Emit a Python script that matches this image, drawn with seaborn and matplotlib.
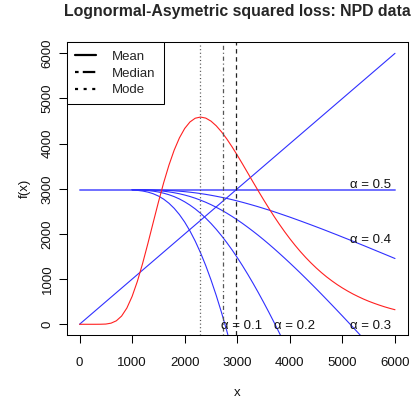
import matplotlib
matplotlib.use("Agg")
import matplotlib.pyplot as plt
from matplotlib.lines import Line2D
import pandas as pd
import seaborn as sns

# Lognormal density (scaled), sampled every 100
x_dens = list(range(0, 6001, 100))
dens = [0, 0, 0, 0, 1, 5, 25, 77, 182, 359,
        617, 951, 1348, 1789, 2249, 2704, 3134, 3522, 3856, 4128,
        4336, 4480, 4563, 4589, 4566, 4499, 4395, 4262, 4105, 3931,
        3744, 3549, 3350, 3150, 2953, 2759, 2571, 2389, 2216, 2051,
        1895, 1748, 1610, 1481, 1361, 1249, 1145, 1049, 961, 879,
        804, 735, 671, 613, 559, 510, 466, 425, 387, 353, 322]

# Asymmetric squared-loss curves f(x) for each alpha, from x = 1000 in steps of 100
x_alpha = list(range(1000, 6001, 100))
f_a01 = [2974, 2966, 2951, 2927, 2891, 2840, 2771, 2681, 2568, 2429,
         2263, 2067, 1842, 1587, 1301, 984, 638, 262, -142, -574]
f_a02 = [2979, 2976, 2970, 2961, 2948, 2929, 2903, 2869, 2827, 2775,
         2712, 2639, 2555, 2459, 2351, 2233, 2103, 1962, 1810, 1649,
         1477, 1296, 1106, 908, 702, 488, 268, 41, -192, -430]
f_a03 = [2981, 2979, 2977, 2973, 2967, 2958, 2947, 2932, 2913, 2890,
         2862, 2830, 2792, 2749, 2702, 2649, 2591, 2529, 2461, 2389,
         2313, 2233, 2148, 2060, 1969, 1874, 1776, 1675, 1571, 1465,
         1357, 1247, 1135, 1021, 905, 788, 669, 549, 428, 306,
         183, 59, -66, -191, -318]
f_a04 = [2982, 2981, 2980, 2979, 2976, 2973, 2969, 2963, 2956, 2947,
         2937, 2925, 2911, 2895, 2877, 2857, 2835, 2812, 2787, 2760,
         2731, 2701, 2669, 2636, 2602, 2566, 2530, 2492, 2453, 2413,
         2373, 2331, 2289, 2246, 2203, 2159, 2115, 2070, 2024, 1979,
         1932, 1886, 1839, 1792, 1745, 1697, 1649, 1601, 1553, 1505, 1456]

mean_val = 2982
median_val = 2735
mode_val = 2300
x_range = [0, 6000]

alpha_labels = ["α = 0.1", "α = 0.2", "α = 0.3", "α = 0.4", "α = 0.5"]
label_x = [3090, 4080, 5540, 5540, 5540]
label_y = [-30, -30, -30, 1870, 3090]

ticks = [0, 1000, 2000, 3000, 4000, 5000, 6000]

sns.set_style("ticks")
plt.rcParams["font.family"] = ["Liberation Sans", "DejaVu Sans"]
plt.rcParams["lines.scale_dashes"] = False

fig = plt.figure(figsize=(4.11, 3.99), dpi=100)
ax = fig.add_axes([0.1628, 0.1601, 0.829, 0.7334])

blue = "#3030ff"
lw = 0.8

# alpha = 0.5 line at the mean and the diagonal y = x
sns.lineplot(x=x_range, y=[mean_val, mean_val], ax=ax, color="#7070ff", lw=1.4)
sns.lineplot(x=x_range, y=x_range, ax=ax, color=blue, lw=lw)

for vals in (f_a01, f_a02, f_a03, f_a04):
    df = pd.DataFrame({"x": x_alpha[:len(vals)], "f": vals})
    sns.lineplot(data=df, x="x", y="f", ax=ax, color=blue, lw=lw,
                 estimator=None, sort=False)

sns.lineplot(x=x_dens, y=dens, ax=ax, color="#ff2020", lw=lw,
             estimator=None, sort=False)

# mean / median / mode verticals
ax.axvline(mode_val, color="#555555", lw=0.9, dashes=(0.8, 1.8))
ax.axvline(median_val, color="#555555", lw=0.9, dashes=(0.8, 2.0, 3.0, 2.0))
ax.axvline(mean_val, color="#222222", lw=0.9, dashes=(3.2, 2.6))

for lab, lx, ly in zip(alpha_labels, label_x, label_y):
    ax.text(lx, ly, lab, ha="center", va="center", fontsize=9.5, color="#111111")

ax.set_xlim(-240, 6240)
ax.set_ylim(-240, 6240)
ax.set_xticks(ticks)
ax.set_yticks(ticks)
ax.set_xticklabels([str(t) for t in ticks])
ax.set_yticklabels([str(t) for t in ticks], rotation=90, va="center")
ax.tick_params(axis="both", length=5.5, width=0.75, color="black",
               labelsize=9.5, labelcolor="#111111")
ax.tick_params(axis="x", pad=10)
ax.tick_params(axis="y", pad=4)
for sp in ax.spines.values():
    sp.set_visible(True)
    sp.set_color("black")
    sp.set_linewidth(0.75)

ax.set_xlabel("x", fontsize=9.5, labelpad=13, color="#111111")
ax.set_ylabel("f(x)", fontsize=9.5, labelpad=7.5, color="#111111")
ax.set_title("Lognormal-Asymetric squared loss: NPD data", fontsize=11.4,
             fontweight="bold", pad=19)

handles = [
    Line2D([], [], color="black", lw=1.6),
    Line2D([], [], color="black", lw=1.6, dashes=(2.6, 3.0, 9.0, 3.0)),
    Line2D([], [], color="black", lw=1.6, dashes=(2.2, 4.0)),
]
leg = ax.legend(handles, ["Mean", "Median", "Mode"], loc="upper left",
                bbox_to_anchor=(0, 1), borderaxespad=0, fontsize=9.5,
                frameon=True, fancybox=False, edgecolor="black", framealpha=1,
                handlelength=1.64, handletextpad=1.2, borderpad=0.6,
                labelspacing=0.35)
leg.get_frame().set_linewidth(0.75)

fig.savefig("out.png", dpi=100)
